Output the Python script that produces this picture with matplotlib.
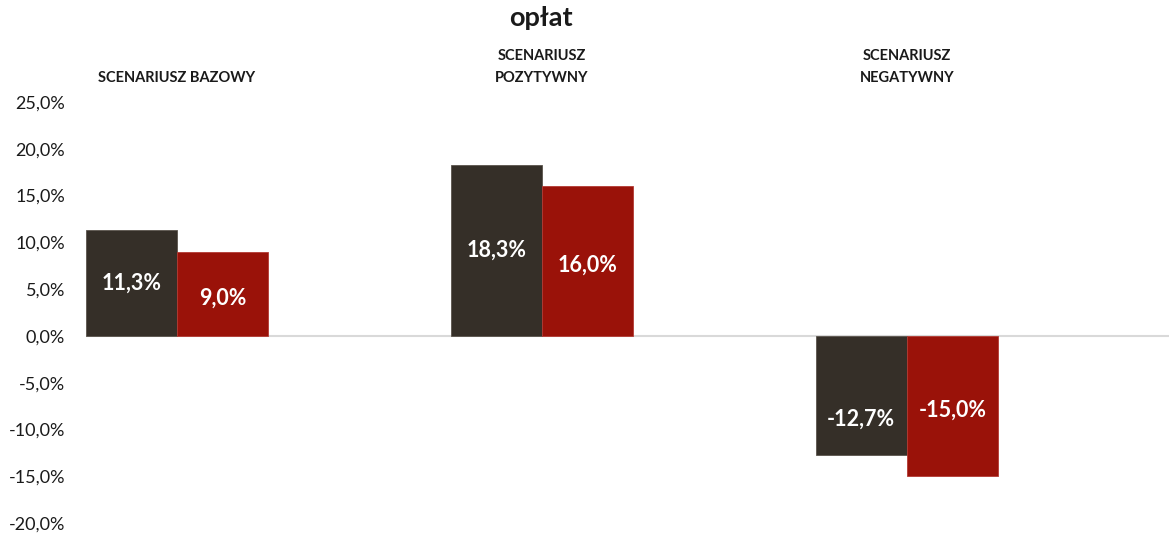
import matplotlib
matplotlib.use("Agg")
import matplotlib.pyplot as plt
import numpy as np

plt.rcParams['font.family'] = ['Lato', 'DejaVu Sans']

title = "opłat"
categories = ["SCENARIUSZ BAZOWY", "SCENARIUSZ\nPOZYTYWNY", "SCENARIUSZ\nNEGATYWNY"]
series_a = [11.3, 18.3, -12.7]
series_b = [9.0, 16.0, -15.0]
yticks = [-20, -15, -10, -5, 0, 5, 10, 15, 20, 25]

col_a = "#352f28"
col_b = "#9a1209"

fig = plt.figure(figsize=(11.69, 5.33), dpi=100)
W, H = 1169, 533
ax = fig.add_axes([86 / W, 1 - 523 / H, 1 - 86 / W, (523 - 102) / H])

x = np.arange(len(categories))
bw = 0.25
ba = ax.bar(x - bw / 2, series_a, bw, color=col_a, edgecolor="#5a544c", linewidth=0.6, zorder=2)
bb = ax.bar(x + bw / 2, series_b, bw, color=col_b, edgecolor="#b33a33", linewidth=0.6, zorder=2)

ax.set_xlim(-0.249, 2.718)
ax.set_ylim(-20, 25)
ax.set_yticks(yticks)
ax.set_yticklabels([f"{v:.1f}%".replace(".", ",") for v in yticks], fontsize=13, color="#1a1a1a")
ax.tick_params(axis="y", length=0, pad=15)
ax.set_xticks([])
for s in ax.spines.values():
    s.set_visible(False)
ax.axhline(0, color="#d9d9d9", linewidth=1.5, zorder=1)

def fmt(v):
    return f"{v:.1f}%".replace(".", ",")

# label offsets (points) to mimic the reference placement
offs_a = [0, 0, -17]
offs_b = [-3, -3, -3]
for bars, vals, offs in ((ba, series_a, offs_a), (bb, series_b, offs_b)):
    for r, v, o in zip(bars, vals, offs):
        ax.annotate(fmt(v), (r.get_x() + r.get_width() / 2, v / 2), xytext=(0, o),
                    textcoords="offset points", ha="center", va="center",
                    color="white", fontsize=15.5, fontweight="bold", zorder=3)

for i, c in enumerate(categories):
    fig.text((86 + (x[i] + 0.249) / (2.718 + 0.249) * (W - 86)) / W, 1 - 85 / H, c,
             ha="center", va="bottom", fontsize=10.5, fontweight="bold", color="#1a1a1a",
             linespacing=1.75)

fig.text(541 / W, 1 - 18 / H, title, ha="center", va="center", fontsize=19.5,
         fontweight="bold", color="#1a1a1a")

fig.savefig("out.png", dpi=100)
